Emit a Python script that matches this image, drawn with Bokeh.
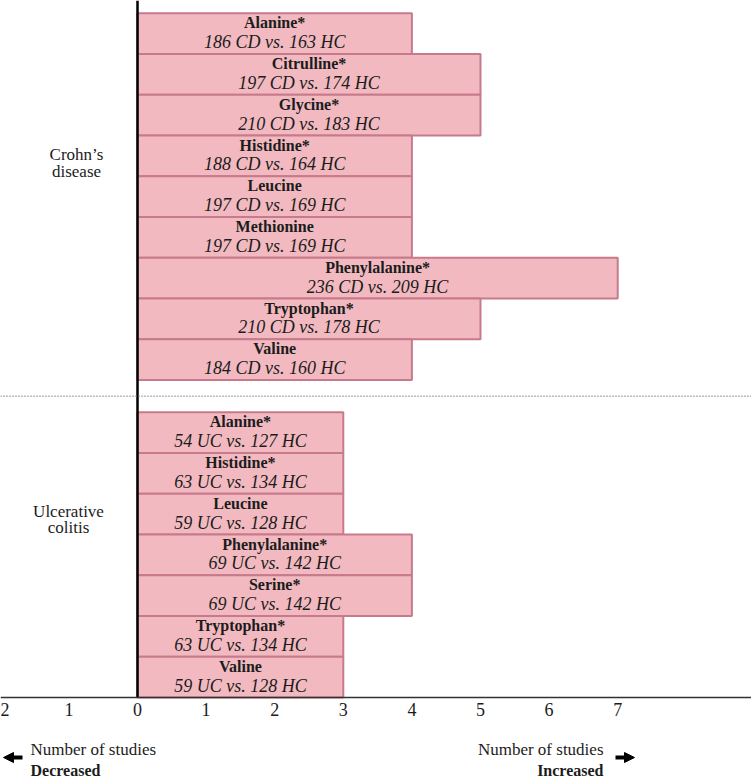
from bokeh.plotting import figure
from bokeh.models import (ColumnDataSource, Range1d, Span, Label,
                          Arrow, NormalHead)
from bokeh.core.properties import value
from bokeh.embed import file_html
from bokeh.resources import INLINE

# ---------------- data ----------------
cd_names = ["Alanine*", "Citrulline*", "Glycine*", "Histidine*", "Leucine",
            "Methionine", "Phenylalanine*", "Tryptophan*", "Valine"]
cd_counts = [4, 5, 5, 4, 4, 4, 7, 5, 4]
cd_stats = ["186 CD vs. 163 HC", "197 CD vs. 174 HC", "210 CD vs. 183 HC",
            "188 CD vs. 164 HC", "197 CD vs. 169 HC", "197 CD vs. 169 HC",
            "236 CD vs. 209 HC", "210 CD vs. 178 HC", "184 CD vs. 160 HC"]

uc_names = ["Alanine*", "Histidine*", "Leucine", "Phenylalanine*", "Serine*",
            "Tryptophan*", "Valine"]
uc_counts = [3, 3, 3, 4, 4, 3, 3]
uc_stats = ["54 UC vs. 127 HC", "63 UC vs. 134 HC", "59 UC vs. 128 HC",
            "69 UC vs. 142 HC", "69 UC vs. 142 HC", "63 UC vs. 134 HC",
            "59 UC vs. 128 HC"]

tick_values = [-2, -1, 0, 1, 2, 3, 4, 5, 6, 7]
tick_labels = ["2", "1", "0", "1", "2", "3", "4", "5", "6", "7"]

group_labels = [["Crohn\u2019s", "disease"], ["Ulcerative", "colitis"]]
left_note = ["Number of studies", "Decreased"]
right_note = ["Number of studies", "Increased"]

# ---------------- layout ----------------
W, H = 751, 778
AXIS_PX = 697           # px of the axis line from the top
ZERO_PX = 137           # px of x=0 from the left
UNIT_PX = 68.6
ROW_PX = 40.75
GAP = 0.79
TXT_FIX = 6             # renderer places alphabetic baselines ~6px low

FONT = "Liberation Serif"
SERIF = value(FONT)
FILL = "#F2BAC0"
EDGE = "#C77A8C"
INK = "#1c1c1c"


def px_x(px):
    return (px - ZERO_PX) / UNIT_PX


def px_y(py):
    return (AXIS_PX - py) / ROW_PX


def txt_y(py):
    return px_y(py - TXT_FIX)


x_start, x_end = px_x(0), px_x(W)
y_start, y_end = px_y(H), px_y(0)

n_uc = len(uc_names)
n_cd = len(cd_names)
cd_top = n_uc + GAP + n_cd

names = cd_names + uc_names
counts = cd_counts + uc_counts
stats = cd_stats + uc_stats
tops = [cd_top - i for i in range(n_cd)] + [n_uc - i for i in range(n_uc)]

src = ColumnDataSource(dict(
    name=names,
    count=counts,
    stat=stats,
    y=[t - 0.5 for t in tops],
    xc=[c / 2 for c in counts],
    y_name=[t - (15.6 - TXT_FIX) / ROW_PX for t in tops],
    y_stat=[t - (34.8 - TXT_FIX) / ROW_PX for t in tops],
))

p = figure(width=W, height=H,
           x_range=Range1d(x_start, x_end), y_range=Range1d(y_start, y_end),
           output_backend="svg", toolbar_location=None,
           x_axis_location=None, y_axis_location=None,
           min_border_left=0, min_border_right=0, min_border_top=0,
           min_border_bottom=0)
p.outline_line_color = None
p.xgrid.visible = False
p.ygrid.visible = False
p.background_fill_color = "white"

p.hbar(y="y", left=0, right="count", height=1, source=src,
       fill_color=FILL, line_color=EDGE, line_width=2)

p.text(x="xc", y="y_name", text="name", source=src, text_font=SERIF,
       text_font_style="bold", text_font_size="16px", text_align="center",
       text_baseline="alphabetic", text_color=INK)
p.text(x="xc", y="y_stat", text="stat", source=src, text_font=SERIF,
       text_font_style="italic", text_font_size="18px", text_align="center",
       text_baseline="alphabetic", text_color=INK)

# zero line (from axis to top) and group separator
p.segment(x0=[0], y0=[0], x1=[0], y1=[y_end], line_color="black",
          line_width=2.5)
p.add_layout(Span(location=n_uc + GAP / 2, dimension="width",
                  line_color="#7a7a7a", line_width=1.5, line_dash="1 2"))

# x axis line
p.add_layout(Span(location=0, dimension="width", line_color="#333333",
                  line_width=1.5))

# tick labels
tick_src = ColumnDataSource(dict(
    y=[txt_y(715)] * len(tick_values),
    text=tick_labels,
    align=["left" if v - 0.06 < x_start else "center" for v in tick_values],
    xs=[max(v, x_start) for v in tick_values],
))
p.text(x="xs", y="y", text="text", text_align="align", source=tick_src,
       text_font=SERIF, text_font_size="18px", text_baseline="alphabetic",
       text_color=INK)

# group labels
group_x = [px_x(76), px_x(68)]
group_baselines = [[txt_y(160), txt_y(177)], [txt_y(517), txt_y(533)]]
for lines, gx, gys in zip(group_labels, group_x, group_baselines):
    for txt, gy in zip(lines, gys):
        p.add_layout(Label(x=gx, y=gy, text=txt, text_font=FONT,
                           text_font_size="17px", text_align="center",
                           text_baseline="alphabetic", text_color=INK))

# direction notes
p.add_layout(Label(x=px_x(30), y=txt_y(755), text=left_note[0],
                   text_font=FONT, text_font_size="17px", text_align="left",
                   text_baseline="alphabetic", text_color=INK))
p.add_layout(Label(x=px_x(30), y=txt_y(776), text=left_note[1],
                   text_font=FONT, text_font_size="16px",
                   text_font_style="bold", text_align="left",
                   text_baseline="alphabetic", text_color=INK))
p.add_layout(Label(x=px_x(603), y=txt_y(755), text=right_note[0],
                   text_font=FONT, text_font_size="17px", text_align="right",
                   text_baseline="alphabetic", text_color=INK))
p.add_layout(Label(x=px_x(603), y=txt_y(776), text=right_note[1],
                   text_font=FONT, text_font_size="16px",
                   text_font_style="bold", text_align="right",
                   text_baseline="alphabetic", text_color=INK))

p.add_layout(Arrow(end=NormalHead(size=10, fill_color="black",
                                  line_color="black", line_width=1),
                   x_start=px_x(22), y_start=px_y(757),
                   x_end=px_x(3), y_end=px_y(757),
                   line_width=4, line_color="black"))
p.add_layout(Arrow(end=NormalHead(size=10, fill_color="black",
                                  line_color="black", line_width=1),
                   x_start=px_x(615), y_start=px_y(757),
                   x_end=px_x(634), y_end=px_y(757),
                   line_width=4, line_color="black"))

open("out.html", "w").write(file_html(p, INLINE))
